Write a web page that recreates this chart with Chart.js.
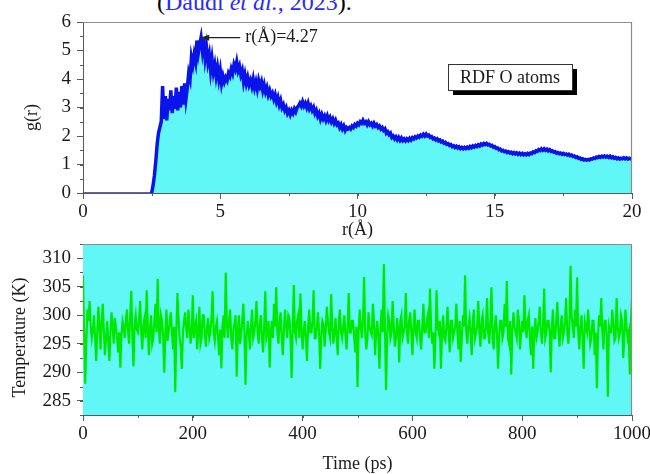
<!DOCTYPE html>
<html>
<head>
<meta charset="utf-8">
<script src="https://cdn.jsdelivr.net/npm/chart.js@4.4.1/dist/chart.umd.min.js"></script>
<style>
  html, body { margin: 0; padding: 0; background: #fff; }
  #wrap { position: relative; width: 650px; height: 474px; overflow: hidden; }
  #cite { position: absolute; left: 157px; top: -10px; font: 24px "Liberation Serif", serif; line-height: 24px; white-space: nowrap; color: #000; }
  #cite .ref { color: #2a2aff; }
  #rdf { position: absolute; left: 0; top: 0; }
  #temp { position: absolute; left: 0; top: 240px; }
</style>
</head>
<body>
<div id="wrap">
  <div id="cite">(<span class="ref">Daudi <i>et al.</i>, 2023</span>).</div>
  <canvas id="rdf" width="650" height="240"></canvas>
  <canvas id="temp" width="650" height="234"></canvas>
</div>
<script>
// ---- Radial distribution function of O atoms, g(r) sampled every 0.05 Å from r = 0 (one row per Å) ----
const rStep = 0.05;
const gValues = [
  0, 0, 0, 0, 0, 0, 0, 0, 0, 0, 0, 0, 0, 0, 0, 0, 0, 0, 0, 0,
  0, 0, 0, 0, 0, 0, 0, 0, 0, 0, 0, 0, 0, 0, 0, 0, 0, 0, 0, 0,
  0, 0, 0, 0, 0, 0, 0, 0, 0, 0, 0, 0.25, 0.6, 1.1, 1.7, 2.1, 2.3, 2.5, 3.75, 2.6,
  3.4, 2.55, 3.3, 2.9, 3.6, 2.8, 3.4, 2.95, 3.7, 2.9, 3.55, 3.0, 3.75, 3.1, 3.85, 3.3, 3.7, 4.2, 4.0, 4.75,
  4.5, 4.85, 4.6, 5.35, 4.9, 5.2, 5.45, 5.0, 5.4, 4.75, 5.1, 4.6, 4.85, 4.3, 4.7, 4.25, 4.5, 4.1, 4.4, 4.0,
  4.3, 3.85, 4.1, 3.9, 4.05, 3.95, 4.2, 4.1, 4.35, 4.2, 4.5, 4.35, 4.6, 4.3, 4.45, 4.15, 4.3, 3.9, 4.15, 3.85,
  4.05, 3.8, 3.95, 3.75, 4.0, 3.7, 3.9, 3.65, 3.95, 3.75, 3.9, 3.6, 3.8, 3.55, 3.7, 3.45, 3.6, 3.4, 3.5, 3.3,
  3.45, 3.2, 3.35, 3.1, 3.25, 3.0, 3.1, 2.9, 3.0, 2.8, 2.9, 2.75, 2.9, 2.8, 2.95, 2.85, 3.0, 3.05, 3.15, 3.05,
  3.2, 3.05, 3.15, 3.0, 3.15, 2.95, 3.05, 2.9, 3.0, 2.8, 2.9, 2.7, 2.8, 2.6, 2.75, 2.6, 2.7, 2.55, 2.7, 2.55,
  2.65, 2.5, 2.6, 2.45, 2.55, 2.4, 2.45, 2.3, 2.4, 2.25, 2.35, 2.2, 2.3, 2.25, 2.3, 2.25, 2.35, 2.3, 2.4, 2.35,
  2.45, 2.4, 2.5, 2.45, 2.55, 2.45, 2.5, 2.4, 2.5, 2.4, 2.45, 2.35, 2.45, 2.35, 2.4, 2.3, 2.35, 2.25, 2.3, 2.2,
  2.25, 2.1, 2.15, 2.05, 2.1, 1.95, 2.0, 1.9, 1.97, 1.87, 1.95, 1.85, 1.93, 1.84, 1.9, 1.83, 1.9, 1.84, 1.92, 1.86,
  1.94, 1.9, 1.97, 1.93, 2.0, 1.96, 2.03, 1.99, 2.06, 2.0, 2.07, 2.0, 2.03, 1.95, 1.98, 1.9, 1.93, 1.86, 1.9, 1.83,
  1.86, 1.79, 1.82, 1.75, 1.78, 1.71, 1.73, 1.67, 1.7, 1.63, 1.66, 1.6, 1.64, 1.58, 1.62, 1.56, 1.6, 1.55, 1.6, 1.56,
  1.61, 1.57, 1.63, 1.59, 1.65, 1.61, 1.67, 1.63, 1.69, 1.65, 1.72, 1.68, 1.74, 1.7, 1.74, 1.69, 1.71, 1.65, 1.67, 1.61,
  1.63, 1.57, 1.58, 1.52, 1.54, 1.48, 1.5, 1.45, 1.47, 1.42, 1.45, 1.4, 1.43, 1.38, 1.42, 1.37, 1.41, 1.36, 1.4, 1.35,
  1.39, 1.34, 1.38, 1.34, 1.39, 1.35, 1.4, 1.38, 1.44, 1.42, 1.48, 1.46, 1.52, 1.49, 1.55, 1.5, 1.55, 1.5, 1.54, 1.48,
  1.52, 1.46, 1.48, 1.43, 1.45, 1.4, 1.42, 1.38, 1.4, 1.36, 1.39, 1.35, 1.37, 1.33, 1.36, 1.31, 1.33, 1.28, 1.3, 1.25,
  1.27, 1.22, 1.23, 1.18, 1.2, 1.16, 1.18, 1.15, 1.18, 1.16, 1.2, 1.19, 1.23, 1.21, 1.26, 1.24, 1.28, 1.25, 1.29, 1.26,
  1.3, 1.26, 1.29, 1.25, 1.29, 1.24, 1.27, 1.22, 1.25, 1.2, 1.23, 1.19, 1.22, 1.2, 1.24, 1.2, 1.23, 1.19, 1.22, 1.2,
  1.22
];
const peakR = 4.27;
const rTicks = [0, 5, 10, 15, 20];
const gTicks = [0, 1, 2, 3, 4, 5, 6];
const rdfLabel = 'RDF O atoms';

// ---- Temperature during the run, one sample every 2 ps from 0 to 1000 ps (one row per 100 ps) ----
const timeStep = 2;
const tempValues = [
  307, 297, 288, 295, 301, 299, 302.5, 298, 296, 297.5, 300, 296, 292, 297, 301.5, 298, 294, 299, 302, 297, 293, 296, 299, 295.5, 292, 297, 300.5, 298, 295, 299.5, 298, 296, 293.5, 297, 290.8, 296.5, 299, 298, 296, 299, 301, 297, 295, 300, 304.3, 296, 291, 298.5, 300, 297.5,
  297, 299, 302.5, 297, 294, 298.5, 299.5, 296, 304.4, 298, 293, 297.5, 300, 295, 296, 299, 302, 297, 306.4, 298, 295, 300, 299, 296, 289.9, 297, 301, 295.5, 297, 299, 300.5, 297, 294, 298, 286.5, 297, 303.9, 299.5, 296, 294.5, 290.6, 297, 299, 300.5, 297.5, 296, 301, 298, 295, 297,
  303.5, 296, 298, 299, 294, 297, 301.5, 295, 296, 300, 300, 296.5, 294.5, 298, 299.5, 296, 297, 299.5, 304.2, 297, 295.5, 298, 299, 296, 293, 297.5, 290.7, 298, 300, 296, 307.5, 298.5, 296, 299, 301, 296, 294, 297.5, 298.5, 300, 289.2, 297, 300, 295, 296.5, 299, 302, 297, 287.8, 296,
  299, 297, 294, 298, 301, 296, 297, 299, 302.5, 297, 295, 298.5, 300, 296, 293.5, 298, 304.2, 296, 297, 299, 290.8, 297, 299, 296, 302, 298, 304.9, 297, 295, 299, 300.5, 296, 293, 297.5, 301, 298, 296, 300, 299.5, 296, 289, 298, 305.3, 297, 296, 299, 300, 296, 303.8, 298,
  294, 297, 299, 296, 292, 298, 301, 297, 297, 299, 304.4, 296, 296, 298, 300.5, 297, 290.6, 296, 299, 298.5, 294.5, 297, 301.5, 299, 297, 296, 303.7, 298, 295, 297, 299.5, 296, 293, 299, 301, 297, 296, 298, 300, 296.5, 294, 298, 303.9, 297, 297, 299, 299, 296, 293.5, 298,
  287.4, 297, 301, 298, 296, 299, 306.7, 297, 294, 296, 300.5, 298, 297, 296.5, 302, 299, 293, 297, 299, 296, 290.6, 298, 301, 297, 309, 298, 286.9, 296, 300, 299, 296, 297, 302.5, 298, 294.5, 296, 299.5, 297.5, 291.7, 299, 300, 296, 297, 298, 303.9, 297, 295, 299, 300.5, 297,
  293, 298, 301, 297, 296, 299, 299, 296, 294, 298, 302, 297, 297, 299, 300, 296, 304.7, 298, 295, 297, 290.6, 296, 304.4, 298, 297, 299, 290.6, 297, 300, 296, 295.5, 298, 301.5, 297, 293.5, 299, 299, 296, 297, 298, 302, 297, 294, 299, 291.8, 296, 300, 298, 307, 297,
  295, 298, 299.5, 297, 293, 299, 301, 296, 297, 298, 302.5, 297, 294.5, 299, 300, 296, 296, 298, 303, 297, 295, 299, 304.9, 296, 294, 298, 300, 297, 290.6, 296, 299, 299, 296, 297, 302, 298, 306, 296, 295, 299, 289.6, 297, 300.5, 298, 297, 296, 301, 299, 294, 297,
  299, 297, 303.5, 298, 296, 299, 300, 296, 293, 298, 290.6, 297, 299.5, 296, 297, 299, 301.5, 297, 295, 298, 304.7, 296, 297, 299, 299, 297, 290, 298, 301, 296, 296, 299, 302.3, 297, 294.5, 298, 300, 296, 297, 299, 303, 297, 295, 298, 308.7, 300, 298, 296, 301, 298,
  306.6, 297, 294, 298, 300, 296, 290.6, 299, 298, 297, 301, 298, 295, 296, 299, 299, 293, 297, 287.2, 296, 300, 298, 303, 297, 294, 299, 299, 296, 285.7, 298, 297, 297, 301, 299, 295.5, 296, 303, 298, 296, 297, 300, 299, 292.5, 296, 301, 298, 296, 297, 289.6, 299,
  302.8
];
const timeTicks = [0, 200, 400, 600, 800, 1000];
const tempTicks = [285, 290, 295, 300, 305, 310];

// ---- shared look ----
const FONT = '"Liberation Serif", "Times New Roman", serif';
const TEXT = '#1a1a1a';
const AXIS = '#5a5a5a';
const FRAME = '#8c8c8c';
const CYAN = '#62f7f7';
Chart.defaults.font.family = FONT;
Chart.defaults.font.size = 19;
Chart.defaults.color = TEXT;

const rdfPoints = gValues.map((g, i) => ({ x: +(i * rStep).toFixed(2), y: g }));
const tempPoints = tempValues.map((T, i) => ({ x: i * timeStep, y: T }));

const useTicks = list => scale => { scale.ticks = list.map(v => ({ value: v })); };
const fixWidth = w => scale => { scale.width = w; scale.paddingTop = 0; scale.paddingBottom = 0; };
const fixHeight = h => scale => { scale.height = h; scale.paddingLeft = 0; scale.paddingRight = 0; };
const plain = v => String(v);

// top and right sides of the plot box
const frame = {
  id: 'frame',
  afterDraw(chart) {
    const { ctx, chartArea: a } = chart;
    ctx.save();
    ctx.strokeStyle = FRAME;
    ctx.lineWidth = 1.2;
    ctx.beginPath();
    ctx.moveTo(a.left, a.top + 0.5);
    ctx.lineTo(a.right - 0.5, a.top + 0.5);
    ctx.lineTo(a.right - 0.5, a.bottom);
    ctx.stroke();
    ctx.restore();
  }
};

// short outward ticks between the labelled ones
const minorTicks = {
  id: 'minorTicks',
  afterDraw(chart, args, o) {
    const { ctx, chartArea: a } = chart;
    ctx.save();
    ctx.strokeStyle = AXIS;
    ctx.lineWidth = 1;
    ctx.beginPath();
    const xs = chart.scales.x, ys = chart.scales.y;
    for (let v = Math.ceil(xs.min / o.x) * o.x; v <= xs.max + 1e-9; v += o.x) {
      const px = Math.round(xs.getPixelForValue(v)) + 0.5;
      ctx.moveTo(px, a.bottom); ctx.lineTo(px, a.bottom + 3);
    }
    for (let v = Math.ceil(ys.min / o.y) * o.y; v <= ys.max + 1e-9; v += o.y) {
      const py = Math.round(ys.getPixelForValue(v)) + 0.5;
      ctx.moveTo(a.left, py); ctx.lineTo(a.left - 3, py);
    }
    ctx.stroke();
    ctx.restore();
  }
};

// rotated y-axis caption
const sideTitle = {
  id: 'sideTitle',
  afterDraw(chart, args, o) {
    const { ctx, chartArea: a } = chart;
    ctx.save();
    ctx.translate(o.x, (a.top + a.bottom) / 2 + o.shift);
    ctx.rotate(-Math.PI / 2);
    ctx.font = '18px ' + FONT;
    ctx.fillStyle = TEXT;
    ctx.textAlign = 'center';
    ctx.textBaseline = 'middle';
    ctx.fillText(o.text, 0, 0);
    ctx.restore();
  }
};

// cyan plot background
const plotFill = {
  id: 'plotFill',
  beforeDatasetsDraw(chart, args, o) {
    const { ctx, chartArea: a } = chart;
    ctx.save();
    ctx.fillStyle = o.color;
    ctx.fillRect(a.left, a.top, a.right - a.left, a.bottom - a.top);
    ctx.restore();
  }
};

// first-peak marker and the boxed series label
const rdfNotes = {
  id: 'rdfNotes',
  afterDraw(chart) {
    const { ctx, chartArea: a, scales: { x, y } } = chart;
    const peakG = Math.max(...gValues);
    const tipX = x.getPixelForValue(peakR);
    const tipY = y.getPixelForValue(peakG);
    ctx.save();
    ctx.strokeStyle = '#222';
    ctx.fillStyle = '#222';
    ctx.lineWidth = 1.3;
    ctx.beginPath();
    ctx.moveTo(tipX + 6, tipY);
    ctx.lineTo(tipX + 40, tipY);
    ctx.stroke();
    ctx.beginPath();
    ctx.moveTo(tipX, tipY);
    ctx.lineTo(tipX + 9, tipY - 3);
    ctx.lineTo(tipX + 9, tipY + 3);
    ctx.closePath();
    ctx.fill();
    ctx.font = '18px ' + FONT;
    ctx.fillStyle = TEXT;
    ctx.textBaseline = 'middle';
    ctx.textAlign = 'left';
    ctx.fillText('r(Å)=' + peakR.toFixed(2), tipX + 45, tipY);

    const bx = a.right - 184, by = a.top + 42, bw = 124, bh = 26;
    ctx.fillStyle = '#000';
    ctx.fillRect(bx + 5, by + 5, bw, bh);
    ctx.fillStyle = '#fff';
    ctx.fillRect(bx, by, bw, bh);
    ctx.strokeStyle = '#333';
    ctx.lineWidth = 1;
    ctx.strokeRect(bx + 0.5, by + 0.5, bw, bh);
    ctx.fillStyle = TEXT;
    ctx.textAlign = 'center';
    ctx.fillText(rdfLabel, bx + bw / 2, by + bh / 2 + 1);
    ctx.restore();
  }
};

const axisStyle = {
  grid: { drawOnChartArea: false, drawTicks: true, tickLength: 6, color: AXIS, lineWidth: 1 },
  border: { display: true, color: AXIS, width: 1 }
};

new Chart(document.getElementById('rdf'), {
  type: 'line',
  data: {
    datasets: [{
      data: rdfPoints,
      borderColor: '#0a14ea',
      borderWidth: 3.5,
      backgroundColor: CYAN,
      fill: 'origin',
      pointRadius: 0,
      tension: 0,
      segment: {
        borderWidth: c => (c.p0.parsed.y === 0 && c.p1.parsed.y === 0 ? 1.6 : 3.5),
        borderColor: c => (c.p0.parsed.y === 0 && c.p1.parsed.y === 0 ? '#2a2a9a' : '#0a14ea')
      }
    }]
  },
  options: {
    responsive: false,
    animation: false,
    events: [],
    layout: { padding: { top: 22, right: 18, left: 0, bottom: 0 } },
    plugins: {
      legend: { display: false },
      tooltip: { enabled: false },
      minorTicks: { x: 2.5, y: 0.5 },
      sideTitle: { text: 'g(r)', x: 32, shift: 10 }
    },
    scales: {
      x: {
        type: 'linear', min: 0, max: 20,
        afterBuildTicks: useTicks(rTicks),
        afterFit: fixHeight(47),
        ticks: { padding: 2, maxRotation: 0, autoSkip: false, callback: plain },
        title: { display: true, text: 'r(Å)', font: { size: 18, lineHeight: 1.1 }, padding: { top: 0, bottom: 0 } },
        ...axisStyle
      },
      y: {
        type: 'linear', min: 0, max: 6,
        afterBuildTicks: useTicks(gTicks),
        afterFit: fixWidth(83),
        ticks: { padding: 6, callback: plain },
        ...axisStyle
      }
    }
  },
  plugins: [frame, minorTicks, sideTitle, rdfNotes]
});

new Chart(document.getElementById('temp'), {
  type: 'line',
  data: {
    datasets: [{
      data: tempPoints,
      borderColor: '#00e800',
      borderWidth: 2.2,
      fill: false,
      pointRadius: 0,
      tension: 0
    }]
  },
  options: {
    responsive: false,
    animation: false,
    events: [],
    layout: { padding: { top: 4, right: 18, left: 0, bottom: 0 } },
    plugins: {
      legend: { display: false },
      tooltip: { enabled: false },
      plotFill: { color: CYAN },
      minorTicks: { x: 100, y: 2.5 },
      sideTitle: { text: 'Temperature (K)', x: 20, shift: 8 }
    },
    scales: {
      x: {
        type: 'linear', min: 0, max: 1000,
        afterBuildTicks: useTicks(timeTicks),
        afterFit: fixHeight(59),
        ticks: { padding: 2, maxRotation: 0, autoSkip: false, callback: plain },
        title: { display: true, text: 'Time (ps)', font: { size: 18, lineHeight: 1.1 }, padding: { top: 0, bottom: 0 } },
        ...axisStyle
      },
      y: {
        type: 'linear', min: 282.5, max: 312.5,
        afterBuildTicks: useTicks(tempTicks),
        afterFit: fixWidth(83),
        ticks: { padding: 6, callback: plain },
        ...axisStyle
      }
    }
  },
  plugins: [plotFill, frame, minorTicks, sideTitle]
});
</script>
</body>
</html>
